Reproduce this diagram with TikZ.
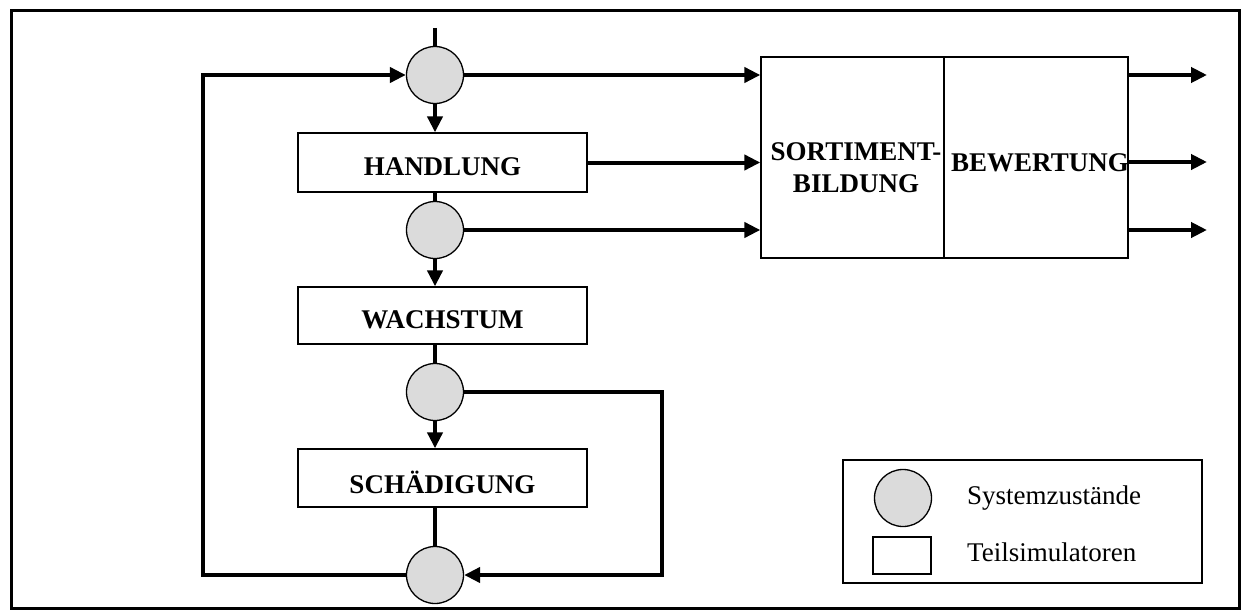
\documentclass[tikz,border=0pt]{standalone}
\usepackage{fontspec}
\setmainfont{Liberation Serif}
\usetikzlibrary{arrows.meta}
\tikzset{
  state/.style={circle, draw, line width=1.3pt, fill=gray!28, minimum size=57pt, inner sep=0pt},
  sim/.style={rectangle, draw, line width=1.3pt, inner sep=0pt},
  simtext/.style={font=\bfseries\fontsize{27}{32}\selectfont, align=center, inner sep=0pt},
  legtext/.style={font=\fontsize{27}{31}\selectfont, anchor=west, inner sep=0pt},
  flow/.style={line width=4pt, line join=miter},
  arr/.style={flow, -{Triangle[length=16pt,width=15pt]}},
}
\begin{document}
\begin{tikzpicture}[x=1pt,y=-1pt]
\useasboundingbox (0,0) rectangle (1242,610);
\draw[line width=3pt] (11,11) rectangle (1239,608);

% simulator boxes
\node[sim, minimum width=289pt, minimum height=59pt] (hand) at (442.5,162.5) {};
\node[simtext] (handl) at (442.5,167) {HANDLUNG};
\node[sim, minimum width=289pt, minimum height=57pt] (wach) at (442.5,315.5) {};
\node[simtext] (wachl) at (442.5,320) {WACHSTUM};
\node[sim, minimum width=289pt, minimum height=58pt] (schad) at (442.5,478) {};
\node[simtext] (schadl) at (442.5,482) {SCHÄDIGUNG};
\node[sim, minimum width=183pt, minimum height=201pt] (sort) at (852.5,157.5) {};
\node[simtext] (sortl) at (856,168) {SORTIMENT-\\BILDUNG};
\node[sim, minimum width=184pt, minimum height=201pt] (bew) at (1036,157.5) {};
\node[simtext] (bewl) at (1040,163) {BEWERTUNG};

% states
\node[state] (c1) at (435,75) {};
\node[state] (c2) at (435,230) {};
\node[state] (c3) at (435,392) {};
\node[state] (c4) at (435,575) {};

% helper coordinates
\coordinate (in) at (435,28);
\coordinate (lb) at (203,575);
\coordinate (lt) at (203,75);
\coordinate (rt) at (662,392);
\coordinate (rb) at (662,575);
\coordinate (o1) at (1207,75);
\coordinate (o2) at (1207,162);
\coordinate (o3) at (1207,230);

% vertical chain
\draw[flow] (in) -- (c1.north);
\draw[arr] (c1.south) -- (hand.north -| c1.south);
\draw[flow] (hand.south -| c1.south) -- (c2.north);
\draw[arr] (c2.south) -- (wach.north -| c2.south);
\draw[flow] (wach.south -| c2.south) -- (c3.north);
\draw[arr] (c3.south) -- (schad.north -| c3.south);
\draw[flow] (schad.south -| c3.south) -- (c4.north);

% loops
\draw[arr] (c4.west) -- (lb) -- (lt) -- (c1.west);
\draw[arr] (c3.east) -- (rt) -- (rb) -- (c4.east);

% into sortiment
\draw[arr] (c1.east) -- (c1.east -| sort.west);
\draw[arr] (hand.east) -- (hand.east -| sort.west);
\draw[arr] (c2.east) -- (c2.east -| sort.west);

% outputs
\draw[arr] (bew.east |- o1) -- (o1);
\draw[arr] (bew.east |- o2) -- (o2);
\draw[arr] (bew.east |- o3) -- (o3);

% legend
\node[sim, minimum width=359pt, minimum height=123pt] (leg) at (1022.5,521.5) {};
\node[state] (lc) at (903,498) {};
\node[sim, minimum width=58pt, minimum height=37pt] (lr) at (902,555.5) {};
\node[legtext] (lt1) at (967,498) {Systemzustände};
\node[legtext] (lt2) at (967,552) {Teilsimulatoren};
\end{tikzpicture}
\end{document}
